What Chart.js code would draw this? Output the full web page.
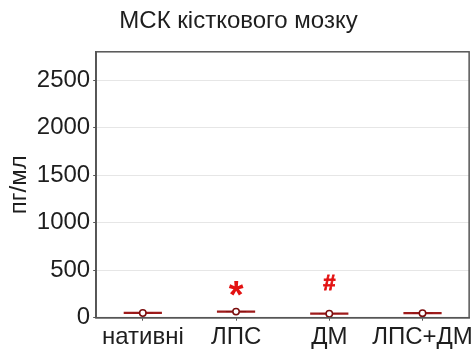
<!DOCTYPE html>
<html>
<head>
<meta charset="utf-8">
<script src="https://cdn.jsdelivr.net/npm/chart.js@4.4.1/dist/chart.umd.min.js"></script>
<style>
  html, body { margin: 0; padding: 0; background: #ffffff; }
  #wrap { width: 476px; height: 357px; }
</style>
</head>
<body>
<div id="wrap"><canvas id="c" width="476" height="357"></canvas></div>
<script>
// ---- data ----
const categories = ['нативні', 'ЛПС', 'ДМ', 'ЛПС+ДМ'];
const minValues    = [38, 52, 30, 36];
const q1Values     = [44, 58, 36, 42];
const medianValues = [50, 64, 42, 48];
const q3Values     = [56, 70, 48, 54];
const maxValues    = [62, 76, 54, 60];
const markLabels   = ['', '*', '#', ''];
const markValues   = [null, 300, 353, null];
const yTicks       = [0, 500, 1000, 1500, 2000, 2500];
const yMax         = 2800;

const DARK_RED = '#9e1b1b';
const TEXT = '#1e1e1e';
const FONT = "'Liberation Sans', Arial, sans-serif";

const framePlugin = {
  id: 'frame',
  afterDraw(chart) {
    const { ctx, chartArea: a } = chart;
    ctx.save();
    ctx.strokeStyle = '#555555';
    ctx.lineWidth = 1.5;
    ctx.strokeRect(a.left, a.top, a.right - a.left, a.bottom - a.top);
    ctx.restore();
  }
};

const marksPlugin = {
  id: 'marks',
  afterDatasetsDraw(chart) {
    const { ctx } = chart;
    const xs = chart.scales.x, ys = chart.scales.y;
    ctx.save();
    ctx.fillStyle = '#e31212';
    ctx.strokeStyle = '#e31212';
    ctx.lineWidth = 0.8;
    ctx.textAlign = 'center';
    ctx.textBaseline = 'middle';
    markLabels.forEach((t, i) => {
      if (!t) return;
      ctx.font = (t === '*' ? 'bold 38px ' : 'bold 22px ') + FONT;
      const x = xs.getPixelForValue(i);
      const y = ys.getPixelForValue(markValues[i]) + (t === '*' ? 8 : 0);
      ctx.fillText(t, x, y);
      if (t === '#') ctx.strokeText(t, x, y);
    });
    ctx.restore();
  }
};

new Chart(document.getElementById('c'), {
  data: {
    labels: categories,
    datasets: [
      {
        type: 'bar',
        label: 'whiskers',
        data: minValues.map((v, i) => [v, maxValues[i]]),
        backgroundColor: DARK_RED,
        borderWidth: 0,
        grouped: false,
        barPercentage: 0.41,
        categoryPercentage: 1,
        order: 3
      },
      {
        type: 'bar',
        label: 'box',
        data: q1Values.map((v, i) => [v, q3Values[i]]),
        backgroundColor: '#8a1010',
        borderColor: '#8a1010',
        borderWidth: 1,
        borderSkipped: false,
        grouped: false,
        barPercentage: 0.22,
        categoryPercentage: 1,
        order: 2
      },
      {
        type: 'line',
        label: 'median',
        data: medianValues,
        showLine: false,
        pointStyle: 'circle',
        pointRadius: 3.2,
        pointBackgroundColor: '#ffffff',
        pointBorderColor: '#7a0d0d',
        pointBorderWidth: 1.5,
        order: 1
      }
    ]
  },
  options: {
    responsive: false,
    animation: false,
    devicePixelRatio: 1,
    layout: { padding: { left: 5, right: 4, top: 0, bottom: 2.5 } },
    plugins: {
      legend: { display: false },
      tooltip: { enabled: false },
      title: {
        display: true,
        text: 'МСК кісткового мозку',
        color: TEXT,
        font: { family: FONT, size: 24, weight: 'normal' },
        padding: { top: 7, bottom: 16 }
      }
    },
    scales: {
      x: {
        type: 'category',
        offset: true,
        grid: { display: true, drawOnChartArea: false, offset: false, tickLength: 3, tickColor: '#555555' },
        border: { color: '#555555', width: 1.5 },
        ticks: { color: TEXT, font: { family: FONT, size: 24 }, padding: 2.5, maxRotation: 0, autoSkip: false }
      },
      y: {
        min: 0,
        max: yMax,
        afterBuildTicks(scale) { scale.ticks = yTicks.map(v => ({ value: v })); },
        grid: { color: '#e6e6e6', lineWidth: 1, tickLength: 3, tickColor: '#555555' },
        border: { color: '#555555', width: 1.5 },
        ticks: { color: TEXT, font: { family: FONT, size: 24 }, padding: 3, callback: v => String(v) },
        title: {
          display: true,
          text: 'пг/мл',
          color: TEXT,
          font: { family: FONT, size: 24 },
          padding: { top: 0, bottom: 0 }
        }
      }
    }
  },
  plugins: [framePlugin, marksPlugin]
});
</script>
</body>
</html>
